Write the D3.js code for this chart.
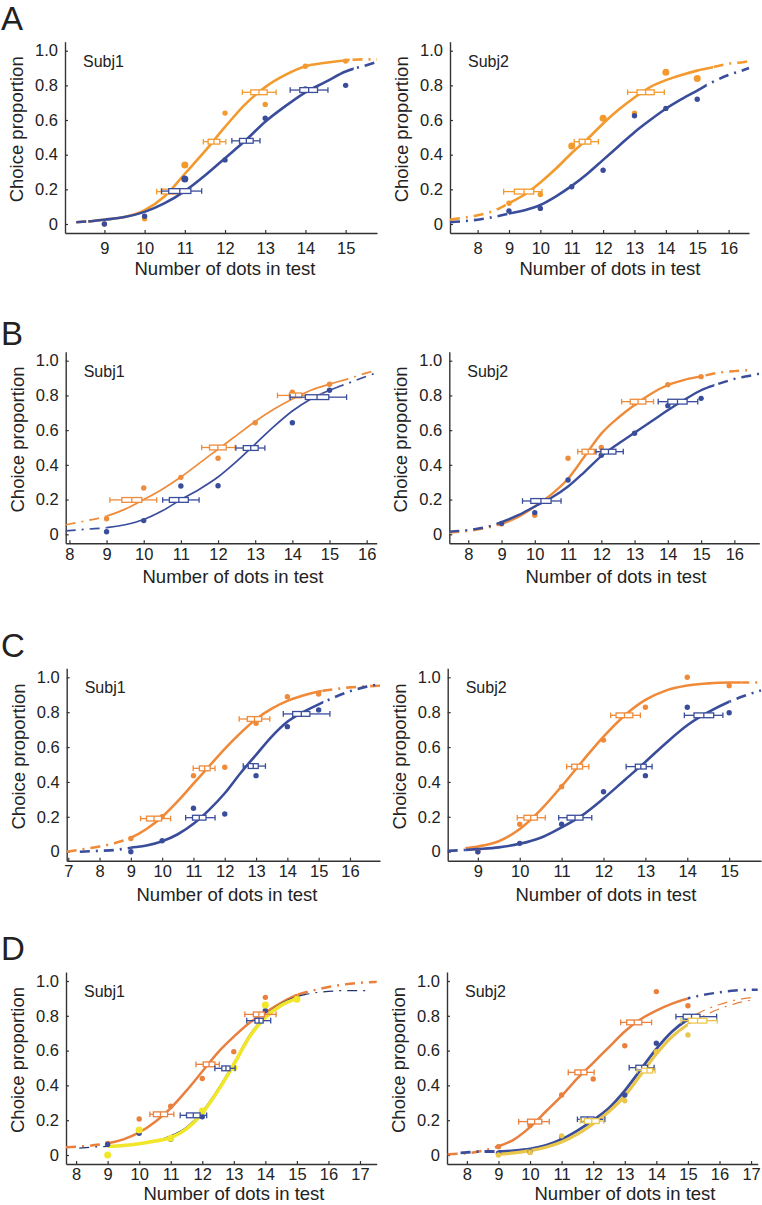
<!DOCTYPE html>
<html>
<head>
<meta charset="utf-8">
<script src="https://cdn.jsdelivr.net/npm/d3@7"></script>
<style>
  body { margin: 0; background: #fff; }
  text { font-family: "Liberation Sans", Arial, sans-serif; fill: #222; }
</style>
</head>
<body>
<svg id="chart" width="762" height="1205"></svg>
<script>
"use strict";

// test numerosities where the dots were measured
const dotX = [9, 10, 11, 12, 13, 14, 15];
const yTicks = [0, 0.2, 0.4, 0.6, 0.8, 1.0];

// ---- A ----
const a1OrangeDots = [0.0, 0.03, 0.34, 0.64, 0.69, 0.91, 0.94];
const a1BlueDots   = [0.0, 0.045, 0.26, 0.37, 0.61, 0.78, 0.80];
const a1OrangeSize = [1, 1, 2, 1, 1, 1, 1];
const a1BlueSize   = [1, 1, 2, 1, 1, 1, 1];
const a1OrangeFit = [[8.3,0.01],[8.6,0.015],[9,0.025],[9.5,0.04],[10,0.08],[10.5,0.16],[11,0.29],[11.5,0.42],[12,0.56],[12.5,0.69],[13,0.79],[13.5,0.86],[14,0.91],[14.5,0.93],[15,0.945],[15.5,0.95],[15.78,0.95]];
const a1BlueFit   = [[8.3,0.01],[8.6,0.015],[9,0.025],[9.5,0.04],[10,0.07],[10.5,0.12],[11,0.19],[11.5,0.28],[12,0.38],[12.5,0.48],[13,0.59],[13.5,0.68],[14,0.76],[14.5,0.82],[15,0.88],[15.5,0.915],[15.78,0.935]];
// [y, whisker low, box low, box high, whisker high]
const a1OrangeBoxes = [[0.187,10.30,10.42,10.79,10.92],[0.475,11.46,11.58,11.87,12.02],[0.76,12.43,12.64,13.05,13.27]];
const a1BlueBoxes   = [[0.19,10.42,10.6,11.15,11.42],[0.48,12.17,12.36,12.70,12.87],[0.773,13.62,13.86,14.3,14.56]];

const a2OrangeDots = [0.12, 0.17, 0.45, 0.61, 0.64, 0.875, 0.84];
const a2BlueDots   = [0.075, 0.09, 0.215, 0.31, 0.625, 0.667, 0.72];
const a2OrangeSize = [1, 1, 2, 2, 1, 2, 2];
const a2BlueSize   = [1, 1, 1, 1, 1, 1, 1];
const a2OrangeFit = [[7.12,0.025],[7.5,0.035],[8,0.05],[8.5,0.075],[9,0.12],[9.5,0.17],[10,0.24],[10.5,0.32],[11,0.41],[11.5,0.49],[12,0.58],[12.5,0.66],[13,0.73],[13.5,0.79],[14,0.83],[14.5,0.86],[15,0.885],[15.5,0.905],[16,0.925],[16.5,0.935],[16.65,0.94]];
const a2BlueFit   = [[7.12,0.01],[7.5,0.015],[8,0.025],[8.5,0.04],[9,0.06],[9.5,0.08],[10,0.11],[10.5,0.16],[11,0.22],[11.5,0.29],[12,0.37],[12.5,0.45],[13,0.53],[13.5,0.6],[14,0.665],[14.5,0.72],[15,0.77],[15.5,0.82],[16,0.86],[16.5,0.89],[16.65,0.9]];
const a2OrangeBoxes = [[0.187,8.83,9.17,9.79,10.05],[0.475,11.08,11.24,11.61,11.85],[0.76,12.78,13.08,13.63,13.95]];
const a2BlueBoxes   = [];

// ---- B ----
const b1OrangeDots = [0.09, 0.267, 0.328, 0.438, 0.643, 0.818, 0.864];
const b1BlueDots   = [0.015, 0.079, 0.278, 0.28, 0.497, 0.643, 0.83];
const b1OrangeFit = [[7.9,0.055],[8.5,0.08],[9,0.105],[9.5,0.145],[10,0.2],[10.5,0.26],[11,0.33],[11.5,0.41],[12,0.49],[12.5,0.57],[13,0.65],[13.5,0.72],[14,0.78],[14.5,0.83],[15,0.865],[15.5,0.895],[16,0.93],[16.27,0.945]];
const b1BlueFit   = [[7.9,0.02],[8.5,0.03],[9,0.038],[9.5,0.055],[10,0.085],[10.5,0.135],[11,0.2],[11.5,0.26],[12,0.33],[12.5,0.42],[13,0.52],[13.5,0.62],[14,0.71],[14.5,0.78],[15,0.83],[15.5,0.87],[16,0.91],[16.27,0.93]];
const b1OrangeBoxes = [[0.198,9.09,9.41,9.95,10.35],[0.50,11.56,11.77,12.22,12.46],[0.80,13.6,13.92,14.25,14.79]];
const b1BlueBoxes   = [[0.198,10.51,10.69,11.2,11.49],[0.497,12.48,12.68,13.08,13.26],[0.79,13.94,14.35,14.98,15.46]];

const b2OrangeDots = [0.06, 0.11, 0.438, 0.50, 0.754, 0.862, 0.908];
const b2BlueDots   = [0.063, 0.125, 0.313, 0.455, 0.582, 0.741, 0.783];
const b2OrangeFit = [[7.43,0.01],[8,0.02],[8.5,0.035],[9,0.06],[9.5,0.1],[10,0.16],[10.5,0.23],[11,0.32],[11.5,0.45],[12,0.58],[12.5,0.67],[13,0.745],[13.5,0.81],[14,0.86],[14.5,0.89],[15,0.91],[15.5,0.93],[16,0.94],[16.4,0.945]];
const b2BlueFit   = [[7.43,0.015],[8,0.025],[8.5,0.04],[9,0.07],[9.5,0.11],[10,0.16],[10.5,0.21],[11,0.275],[11.5,0.36],[12,0.45],[12.5,0.52],[13,0.585],[13.5,0.65],[14,0.715],[14.5,0.775],[15,0.83],[15.5,0.865],[16,0.895],[16.5,0.915],[16.75,0.925]];
const b2OrangeBoxes = [[0.476,11.29,11.42,11.79,11.99],[0.764,12.61,12.87,13.34,13.57]];
const b2BlueBoxes   = [[0.192,9.63,9.88,10.49,10.79],[0.476,11.84,11.99,12.44,12.66],[0.764,13.71,14.0,14.58,14.9]];

// ---- C ----
const c1OrangeDots = [0.076, 0.2, 0.436, 0.484, 0.736, 0.889, 0.904];
const c1BlueDots   = [0.0, 0.063, 0.249, 0.216, 0.436, 0.717, 0.813];
const c1OrangeFit = [[6.95,0.0],[7.5,0.015],[8,0.03],[8.5,0.05],[9,0.08],[9.5,0.13],[10,0.2],[10.5,0.29],[11,0.39],[11.5,0.49],[12,0.59],[12.5,0.68],[13,0.76],[13.5,0.82],[14,0.865],[14.5,0.895],[15,0.918],[15.5,0.932],[16,0.942],[16.5,0.948],[16.96,0.952]];
const c1BlueFit   = [[7.37,0.0],[8,0.005],[8.5,0.01],[9,0.023],[9.5,0.035],[10,0.06],[10.5,0.1],[11,0.16],[11.5,0.24],[12,0.335],[12.5,0.45],[13,0.555],[13.5,0.66],[14,0.745],[14.5,0.8],[15,0.845],[15.5,0.885],[16,0.92],[16.5,0.945],[16.96,0.96]];
const c1OrangeBoxes = [[0.19,9.31,9.5,9.98,10.27],[0.478,10.99,11.19,11.53,11.69],[0.761,12.46,12.72,13.18,13.44]];
const c1BlueBoxes   = [[0.195,10.75,10.97,11.4,11.69],[0.491,12.59,12.75,13.07,13.30],[0.79,13.87,14.17,14.72,15.36]];

const c2OrangeDots = [0.0, 0.157, 0.373, 0.64, 0.828, 1.0, 0.952];
const c2BlueDots   = [0.0, 0.048, 0.157, 0.344, 0.436, 0.828, 0.797];
const c2OrangeFit = [[8.7,0.02],[9,0.03],[9.5,0.06],[10,0.13],[10.5,0.24],[11,0.375],[11.5,0.52],[12,0.66],[12.5,0.78],[13,0.87],[13.5,0.925],[14,0.953],[14.5,0.965],[15,0.97],[15.3,0.97],[15.76,0.97]];
const c2BlueFit   = [[8.28,0.005],[8.7,0.01],[9,0.015],[9.5,0.025],[10,0.045],[10.5,0.08],[11,0.14],[11.5,0.21],[12,0.305],[12.5,0.41],[13,0.515],[13.5,0.625],[14,0.725],[14.5,0.8],[15,0.86],[15.5,0.905],[15.76,0.925]];
const c2OrangeBoxes = [[0.195,9.94,10.1,10.42,10.61],[0.488,11.12,11.24,11.5,11.65],[0.782,12.17,12.3,12.7,12.88]];
const c2BlueBoxes   = [[0.195,10.93,11.13,11.51,11.72],[0.488,12.54,12.76,13.02,13.16],[0.782,13.93,14.16,14.63,14.85]];

// ---- D ----
const d1OrangeDots = [0.067, 0.207, 0.28, 0.44, 0.594, 0.906, 0.91];
const d1BlueDots   = [0.06, 0.125, 0.09, 0.22, 0.5, 0.83, 0.9];
const d1YellowDots = [0.0, 0.144, 0.096, 0.253, 0.502, 0.862, 0.895];
const d1YellowSize = [2, 2, 2, 2, 2, 2, 2];
const d1OrangeFit = [[7.68,0.045],[8,0.048],[8.5,0.055],[9,0.067],[9.5,0.09],[10,0.13],[10.5,0.19],[11,0.27],[11.5,0.37],[12,0.48],[12.5,0.59],[13,0.68],[13.5,0.76],[14,0.82],[14.5,0.875],[15,0.92],[15.5,0.945],[16,0.965],[16.5,0.98],[17,0.99],[17.53,0.995]];
const d1BlueFit   = [[8.1,0.04],[8.5,0.045],[9,0.05],[9.5,0.055],[10,0.065],[10.5,0.08],[11,0.11],[11.5,0.16],[12,0.25],[12.5,0.38],[13,0.53],[13.5,0.69],[14,0.8],[14.5,0.87],[15,0.91],[15.5,0.93],[16,0.94],[16.5,0.945],[17.2,0.945]];
const d1YellowFit = [[9,0.05],[9.5,0.055],[10,0.065],[10.5,0.08],[11,0.1],[11.5,0.15],[12,0.24],[12.5,0.37],[13,0.52],[13.5,0.68],[14,0.79],[14.5,0.86],[15,0.9]];
const d1OrangeBoxes = [[0.234,10.34,10.45,10.9,11.1],[0.521,11.8,12.03,12.4,12.54],[0.808,13.35,13.62,13.97,14.34]];
const d1BlueBoxes   = [[0.228,11.3,11.5,11.93,12.14],[0.498,12.4,12.62,12.88,13.04],[0.772,13.41,13.67,13.93,14.17]];

const d2OrangeDots = [0.048, 0.169, 0.345, 0.437, 0.628, 0.939, 0.858];
const d2BlueDots   = [0.01, 0.017, 0.105, 0.197, 0.345, 0.642, 0.78];
const d2YellowDots = [0.0, 0.015, 0.11, 0.2, 0.312, 0.594, 0.69];
const d2OrangeFit = [[7.39,0.005],[8,0.01],[8.5,0.025],[9,0.05],[9.5,0.09],[10,0.16],[10.5,0.25],[11,0.34],[11.5,0.44],[12,0.53],[12.5,0.62],[13,0.71],[13.5,0.78],[14,0.83],[14.5,0.87],[15,0.9],[15.5,0.92],[16,0.935],[16.5,0.945],[17,0.95],[17.21,0.95]];
const d2BlueFit   = [[7.8,0.012],[8,0.015],[8.5,0.02],[9,0.02],[9.5,0.025],[10,0.035],[10.5,0.055],[11,0.09],[11.5,0.14],[12,0.2],[12.5,0.27],[13,0.37],[13.5,0.49],[14,0.61],[14.5,0.71],[15,0.78],[15.5,0.83],[16,0.865],[16.5,0.89],[17,0.905]];
const d2YellowFit = [[9,0.005],[9.5,0.012],[10,0.025],[10.5,0.045],[11,0.075],[11.5,0.12],[12,0.18],[12.5,0.25],[13,0.34],[13.5,0.46],[14,0.58],[14.5,0.68],[15,0.75],[15.5,0.8],[16,0.84],[16.5,0.87],[17,0.89]];
const d2OrangeBoxes = [[0.192,9.64,9.92,10.37,10.61],[0.475,11.21,11.42,11.8,12.03],[0.762,12.87,13.06,13.54,13.85]];
const d2BlueBoxes   = [[0.205,11.5,11.61,12.03,12.37],[0.502,13.14,13.35,13.72,13.93],[0.795,14.62,14.85,15.38,15.91]];
const d2YellowBoxes = [[0.195,11.59,11.72,12.19,12.33],[0.485,13.39,13.53,13.88,13.96],[0.772,14.78,15.01,15.6,15.93]];

// ---- colours ----
const BLUE = "#3a4d9b";
const NAVY = "#23336e";
const ORANGE_A = "#f39a2e";
const ORANGE_B = "#ee8c3c";
const ORANGE_C = "#f08a38";
const ORANGE_D = "#e9803d";
const YELLOW_1 = "#f1e629";
const YELLOW_2 = "#eac64a";

const ones = dotX.map(() => 1);

// panel layout: ax = y-axis pixel, xr = right end, yTop/yBot = pixel of 1.0 / 0
const panels = [
  { name: "Subj1", ax: 65, xr: 377, xd: [8.02, 15.78], yTop: 50.7, yBot: 224, ticks: d3.range(9, 16), titleX: 225, titleDy: 42, pad: 9,
    series: [
      { dots: a1OrangeDots, size: a1OrangeSize, fit: a1OrangeFit, solid: [8.6, 15.1], boxes: a1OrangeBoxes, color: ORANGE_A, w: 2.6 },
      { dots: a1BlueDots, size: a1BlueSize, fit: a1BlueFit, solid: [8.6, 15.2], boxes: a1BlueBoxes, color: BLUE, w: 2.6 } ] },
  { name: "Subj2", ax: 450, xr: 749, xd: [7.12, 16.65], yTop: 50.7, yBot: 224, ticks: d3.range(8, 17), titleX: 610, titleDy: 42, pad: 9,
    series: [
      { dots: a2OrangeDots, size: a2OrangeSize, fit: a2OrangeFit, solid: [9, 15.5], boxes: a2OrangeBoxes, color: ORANGE_A, w: 2.6 },
      { dots: a2BlueDots, size: a2BlueSize, fit: a2BlueFit, solid: [9, 15.3], boxes: a2BlueBoxes, color: BLUE, w: 2.6 } ] },
  { name: "Subj1", ax: 65.7, xr: 376.7, xd: [7.9, 16.27], yTop: 360.7, yBot: 534.3, ticks: d3.range(8, 17), titleX: 233, titleDy: 40, pad: 5,
    series: [
      { dots: b1OrangeDots, size: ones, fit: b1OrangeFit, solid: [9, 15.3], boxes: b1OrangeBoxes, color: ORANGE_B, w: 1.7 },
      { dots: b1BlueDots, size: ones, fit: b1BlueFit, solid: [9, 15.2], boxes: b1BlueBoxes, color: BLUE, w: 1.7 } ] },
  { name: "Subj2", ax: 449.3, xr: 759.3, xd: [7.43, 16.75], yTop: 360.7, yBot: 534.3, ticks: d3.range(8, 17), titleX: 616, titleDy: 40, pad: 5,
    series: [
      { dots: b2OrangeDots, size: ones, fit: b2OrangeFit, solid: [9, 15], boxes: b2OrangeBoxes, color: ORANGE_B, w: 2.4 },
      { dots: b2BlueDots, size: ones, fit: b2BlueFit, solid: [9, 15.4], boxes: b2BlueBoxes, color: BLUE, w: 2.4 } ] },
  { name: "Subj1", ax: 66.7, xr: 380, xd: [6.95, 16.96], yTop: 677.3, yBot: 851.7, ticks: d3.range(7, 17), titleX: 227, titleDy: 40, pad: 5,
    series: [
      { dots: c1OrangeDots, size: ones, fit: c1OrangeFit, solid: [9, 15.1], boxes: c1OrangeBoxes, color: ORANGE_C, w: 2.6 },
      { dots: c1BlueDots, size: ones, fit: c1BlueFit, solid: [9, 15.15], boxes: c1BlueBoxes, color: BLUE, w: 2.6 } ] },
  { name: "Subj2", ax: 447.7, xr: 761, xd: [8.28, 15.76], yTop: 677.3, yBot: 851.7, ticks: d3.range(9, 16), titleX: 606, titleDy: 40, pad: 5,
    series: [
      { dots: c2OrangeDots, size: ones, fit: c2OrangeFit, solid: [8.7, 15.3], boxes: c2OrangeBoxes, color: ORANGE_C, w: 2.6 },
      { dots: c2BlueDots, size: ones, fit: c2BlueFit, solid: [8.7, 15.0], boxes: c2BlueBoxes, color: BLUE, w: 2.6 } ] },
  { name: "Subj1", ax: 66, xr: 376.7, xd: [7.68, 17.53], yTop: 981, yBot: 1155, ticks: d3.range(8, 18), titleX: 234, titleDy: 36, pad: 4,
    series: [
      { dots: d1OrangeDots, size: ones, fit: d1OrangeFit, solid: [9, 15], boxes: d1OrangeBoxes, color: ORANGE_D, w: 2.5 },
      { dots: d1BlueDots, size: ones, fit: d1BlueFit, solid: [9, 15.3], boxes: d1BlueBoxes, color: BLUE, lineColor: NAVY, w: 1.2 },
      { dots: d1YellowDots, size: d1YellowSize, fit: d1YellowFit, solid: [9, 15], boxes: [], color: YELLOW_1, w: 3.6 } ] },
  { name: "Subj2", ax: 447, xr: 757.7, xd: [7.37, 17.21], yTop: 981, yBot: 1155, ticks: d3.range(8, 18), titleX: 625, titleDy: 36, pad: 4,
    series: [
      { dots: d2OrangeDots, size: ones, fit: d2OrangeFit, solid: [9, 15], boxes: d2OrangeBoxes, color: ORANGE_D, w: 2.5, rightColor: BLUE, rightW: 2.5 },
      { dots: d2BlueDots, size: ones, fit: d2BlueFit, solid: [9, 15], boxes: d2BlueBoxes, color: BLUE, w: 2.8, rightColor: ORANGE_D, rightW: 1.2 },
      { dots: d2YellowDots, size: ones, fit: d2YellowFit, solid: [9, 15], boxes: d2YellowBoxes, color: YELLOW_2, w: 3.2, rightColor: ORANGE_D, rightW: 1.2 } ] }
];

const letters = [["A", 30], ["B", 345], ["C", 657], ["D", 960]];

const svg = d3.select("#chart");
const defs = svg.append("defs");

letters.forEach(([t, y]) => {
  svg.append("text").attr("x", 1).attr("y", y)
    .attr("font-size", 33).text(t);
});

let clipId = 0;

function drawPanel(p) {
  const g = svg.append("g");

  const x = d3.scaleLinear().domain(p.xd).range([p.ax, p.xr]);
  const y = d3.scaleLinear().domain([0, 1]).range([p.yBot, p.yTop]);
  const axisY = p.yBot + 9;
  const axisTop = p.yTop - 9;

  // axes, ticks pointing inwards
  const xAxis = d3.axisBottom(x).tickValues(p.ticks).tickSizeInner(-3).tickSizeOuter(0).tickPadding(p.pad);
  const yAxis = d3.axisLeft(d3.scaleLinear().domain([y.invert(axisY), y.invert(axisTop)]).range([axisY, axisTop]))
    .tickValues(yTicks).tickSizeInner(-3).tickSizeOuter(0).tickPadding(7)
    .tickFormat(d => d === 0 ? "0" : d3.format(".1f")(d));

  const gx = g.append("g").attr("transform", `translate(0,${axisY})`).call(xAxis);
  const gy = g.append("g").attr("transform", `translate(${p.ax},0)`).call(yAxis);
  [gx, gy].forEach(a => {
    a.select(".domain").attr("stroke", "#333").attr("stroke-width", 1.4);
    a.selectAll(".tick line").attr("stroke", "#333").attr("stroke-width", 1.2);
    a.selectAll(".tick text").attr("font-size", 16.5).attr("fill", "#222")
      .attr("font-family", "\"Liberation Sans\", Arial, sans-serif");
  });

  // titles
  g.append("text").attr("x", p.titleX).attr("y", axisY + p.titleDy)
    .attr("text-anchor", "middle").attr("font-size", 18.5).text("Number of dots in test");
  g.append("text")
    .attr("transform", `translate(${p.ax - 42},${(p.yTop + p.yBot) / 2 - 8}) rotate(-90)`)
    .attr("text-anchor", "middle").attr("font-size", 18.5).text("Choice proportion");
  g.append("text").attr("x", p.ax + 18).attr("y", p.yTop + 16)
    .attr("font-size", 16).text(p.name);

  const line = d3.line().x(d => x(d[0])).y(d => y(d[1])).curve(d3.curveMonotoneX);

  // fitted curves: solid inside the tested range, dashed extrapolation outside
  p.series.forEach(s => {
    const path = line(s.fit);
    const xs = x(s.fit[0][0]) - 4, xe = x(s.fit[s.fit.length - 1][0]) + 4;
    const a = x(s.solid[0]), b = x(s.solid[1]);
    const parts = [
      { x0: xs, x1: a, dash: true, color: s.lineColor || s.color, w: s.w },
      { x0: a, x1: b, dash: false, color: s.lineColor || s.color, w: s.w },
      { x0: b, x1: xe, dash: true, color: s.rightColor || s.lineColor || s.color, w: s.rightW || s.w }
    ];
    parts.forEach(pt => {
      if (pt.x1 <= pt.x0) return;
      const id = "clip" + (clipId++);
      defs.append("clipPath").attr("id", id).append("rect")
        .attr("x", pt.x0).attr("y", 0).attr("width", pt.x1 - pt.x0).attr("height", 1205);
      g.append("path").attr("d", path).attr("clip-path", `url(#${id})`)
        .attr("fill", "none").attr("stroke", pt.color).attr("stroke-width", pt.w)
        .attr("stroke-dasharray", pt.dash ? "10,6,2,6" : null);
    });
  });

  // data points
  p.series.forEach(s => {
    g.append("g").selectAll("circle").data(s.dots).join("circle")
      .attr("cx", (d, i) => x(dotX[i]))
      .attr("cy", d => y(d))
      .attr("r", (d, i) => s.size[i] === 2 ? 3.5 : 2.7)
      .attr("fill", s.color);
  });

  // threshold boxes with whiskers
  p.series.forEach(s => {
    const bg = g.append("g").attr("stroke", s.color).attr("stroke-width", 1.3).attr("fill", "none");
    s.boxes.forEach(bx => {
      const [yy, wl, bl, bh, wh] = bx;
      const cy = y(yy);
      bg.append("line").attr("x1", x(wl)).attr("x2", x(bl)).attr("y1", cy).attr("y2", cy);
      bg.append("line").attr("x1", x(bh)).attr("x2", x(wh)).attr("y1", cy).attr("y2", cy);
      bg.append("line").attr("x1", x(wl)).attr("x2", x(wl)).attr("y1", cy - 2.8).attr("y2", cy + 2.8);
      bg.append("line").attr("x1", x(wh)).attr("x2", x(wh)).attr("y1", cy - 2.8).attr("y2", cy + 2.8);
      bg.append("rect").attr("x", x(bl)).attr("y", cy - 2.4)
        .attr("width", x(bh) - x(bl)).attr("height", 4.8).attr("fill", "#fff");
      const mid = x((bl + bh) / 2);
      bg.append("line").attr("x1", mid).attr("x2", mid).attr("y1", cy - 2.4).attr("y2", cy + 2.4);
    });
  });
}

panels.forEach(drawPanel);
</script>
</body>
</html>
